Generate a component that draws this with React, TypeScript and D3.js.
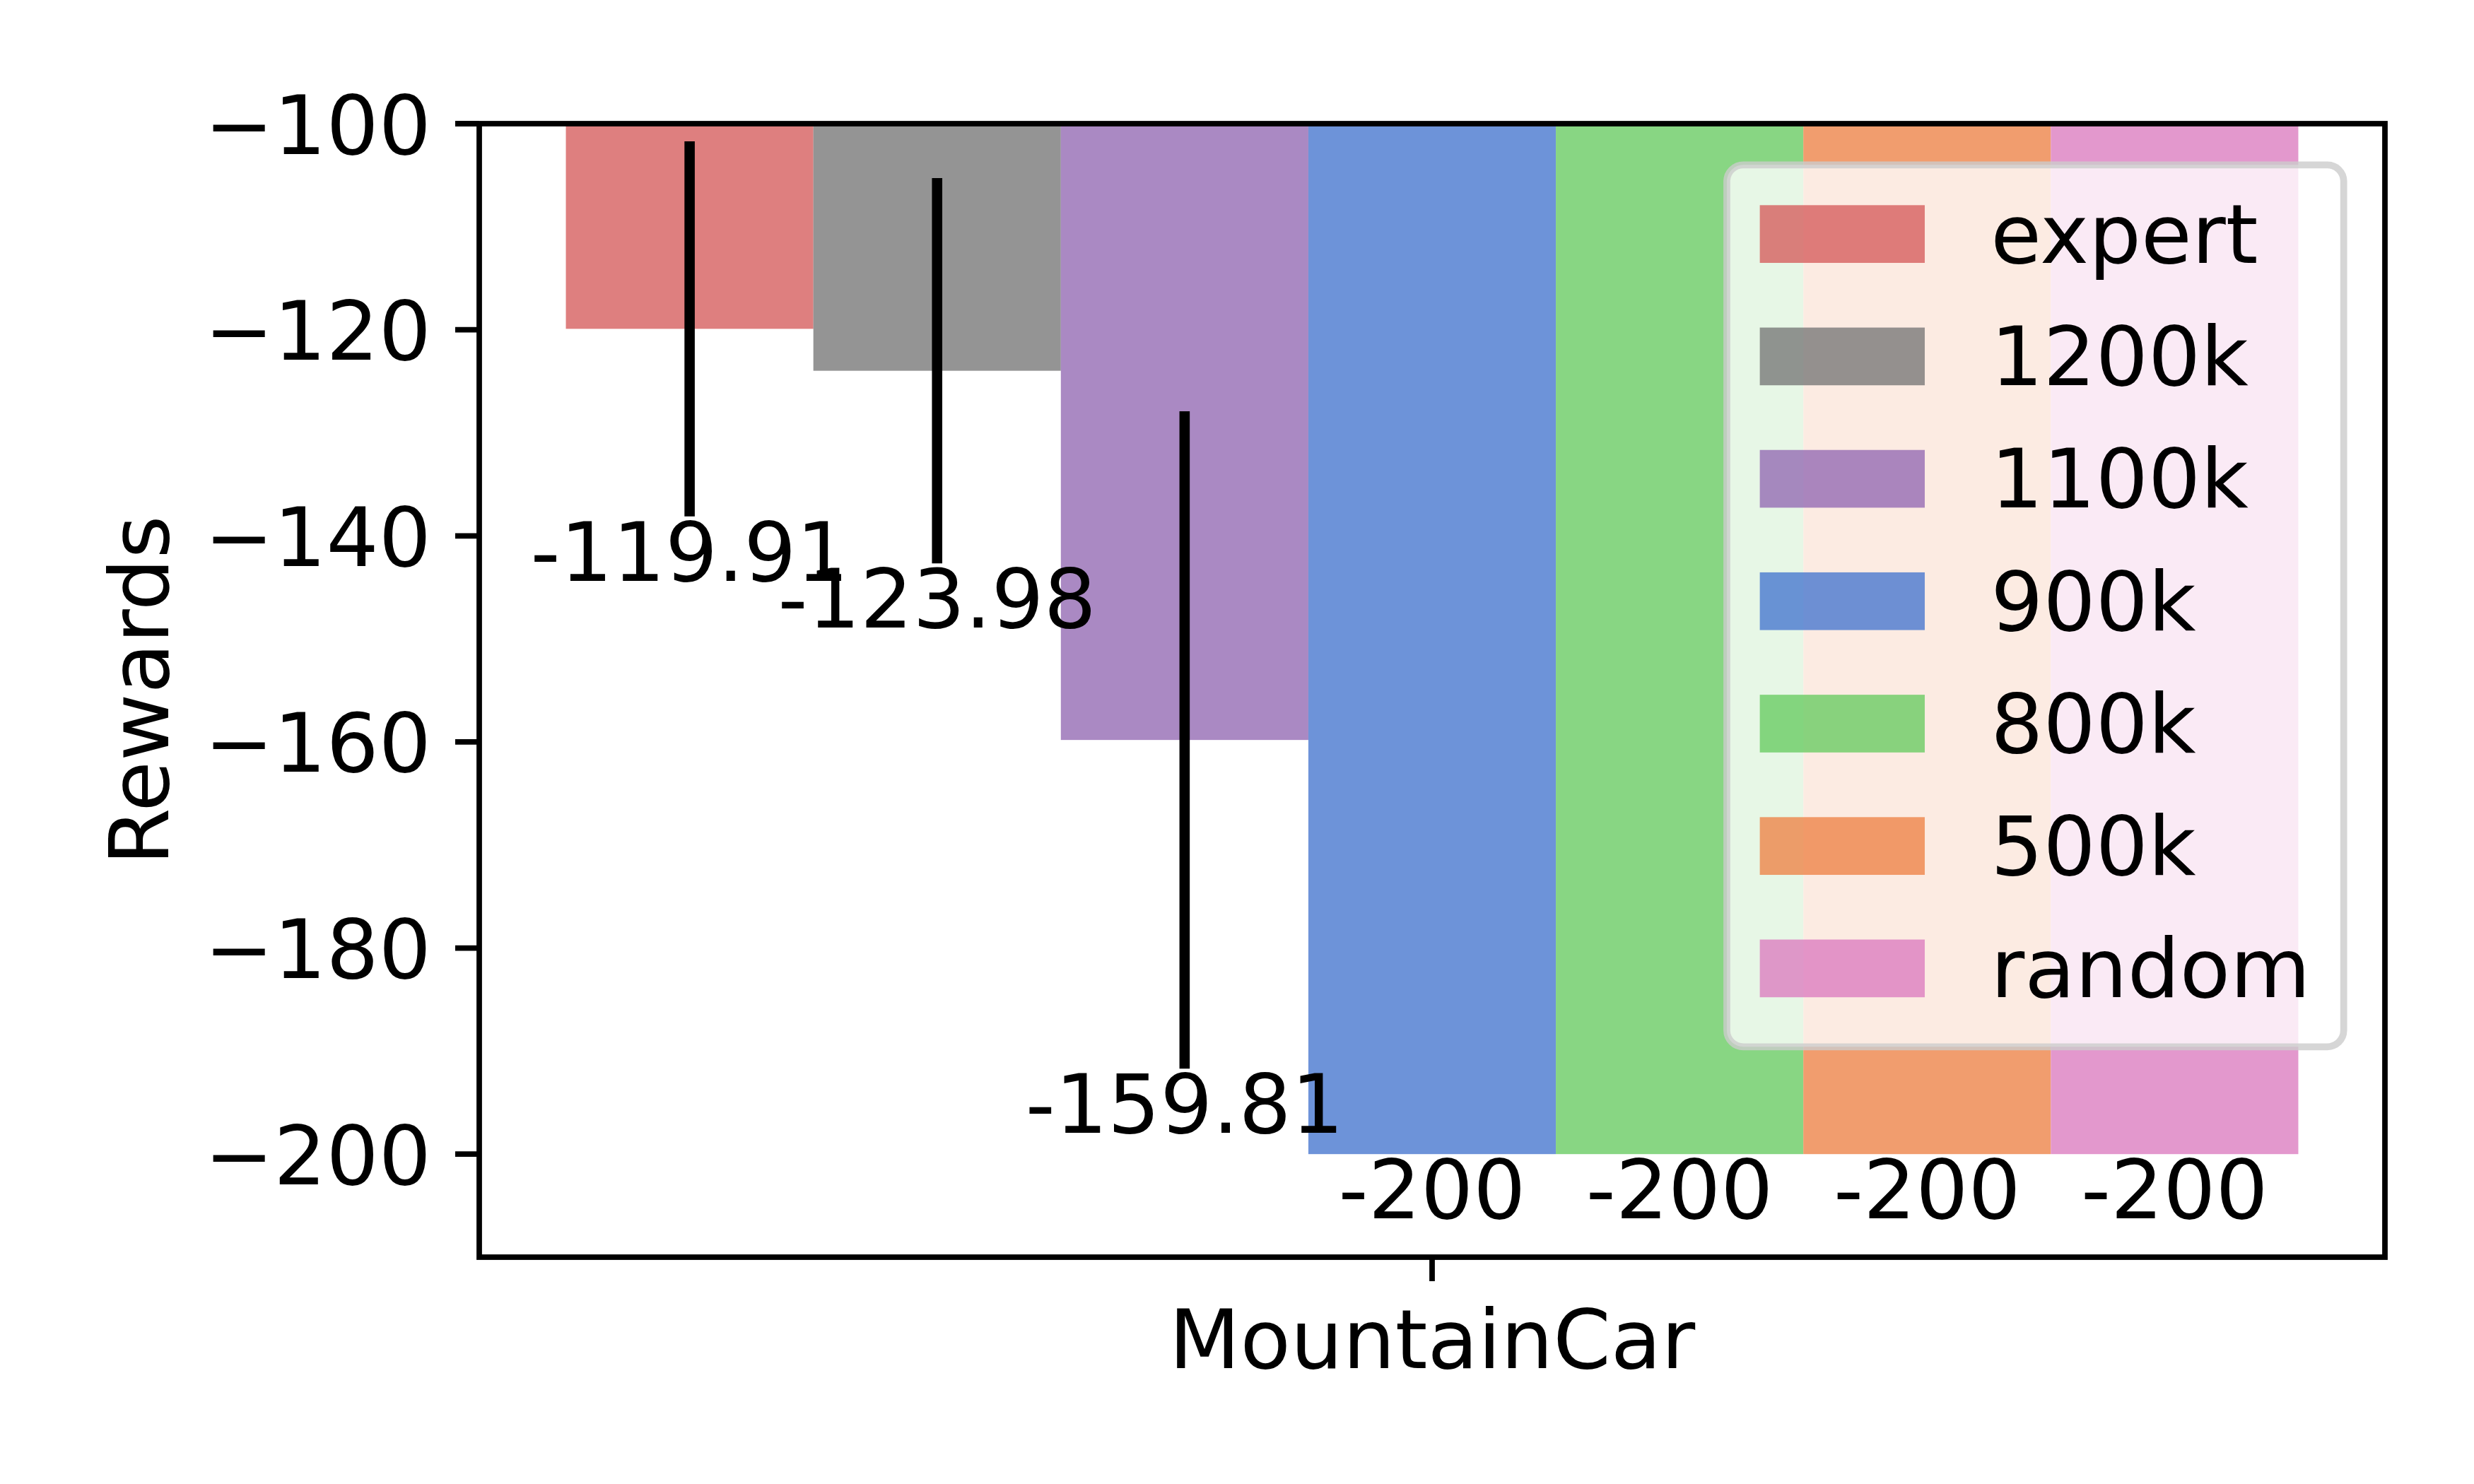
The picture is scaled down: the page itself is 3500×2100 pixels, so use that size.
import React from 'react';
import * as d3 from 'd3';

const categories = ['MountainCar'];
const seriesNames = ['expert', '1200k', '1100k', '900k', '800k', '500k', 'random'];
const means = [-119.91, -123.98, -159.81, -200, -200, -200, -200];
const stds = [18.2, 18.7, 31.9, 0, 0, 0, 0];
const labels = ['-119.91', '-123.98', '-159.81', '-200', '-200', '-200', '-200'];
const colors = ['#d65f5f', '#797979', '#956cb4', '#4878d0', '#6acc64', '#ee854a', '#dc7ec0'];
const yTicks = [-100, -120, -140, -160, -180, -200];
const yDomain = [-210, -100];
const yLabel = 'Rewards';

const W = 3500;
const H = 2100;
const FS = 116.67;
const PT = 700 / 72;
const FONT = '"DejaVu Sans", sans-serif';

export default function App() {
  const L = 678, R = 3374, T = 175, B = 1779;
  const bw = 0.1;
  const n = seriesNames.length;
  const span = n * bw;
  const x = d3.scaleLinear().domain([-span / 2 - span * 0.05, span / 2 + span * 0.05]).range([L, R]);
  const y = d3.scaleLinear().domain(yDomain).range([B, T]);
  const tickLen = 3.5 * PT;
  const pad = 3.5 * PT;
  const lw = 0.8 * PT;
  const fmt = (v: number) => (v < 0 ? '\u2212' + Math.abs(v) : String(v));

  // legend geometry
  const legR = R - 0.5 * FS;
  const legW = 872.7;
  const legL = legR - legW;
  const legT = T + 0.5 * FS;
  const legH = 1248;
  const rowSp = 173.2;
  const base0 = legT + 0.4 * FS + 92;
  const hL = legL + 0.4 * FS;
  const hW = 2.0 * FS;
  const hH = 0.7 * FS;
  const tX = hL + hW + 0.8 * FS;

  return (
    <svg width={W} height={H} style={{ position: 'absolute', left: 0, top: 0, background: '#fff' }} fontFamily={FONT}>
      <rect x={0} y={0} width={W} height={H} fill="#fff" />
      <defs>
        <clipPath id="plotclip">
          <rect x={L} y={T} width={R - L} height={B - T} />
        </clipPath>
      </defs>
      <g clipPath="url(#plotclip)">
        {means.map((m, i) => {
          const cx = (i - (n - 1) / 2) * bw;
          const x0 = x(cx - bw / 2);
          const x1 = x(cx + bw / 2);
          const y0 = y(0);
          const y1 = y(m);
          return (
            <rect key={i} x={x0} y={Math.min(y0, y1)} width={x1 - x0} height={Math.abs(y1 - y0)}
              fill={colors[i]} fillOpacity={0.8} />
          );
        })}
        {means.map((m, i) => {
          if (stds[i] <= 0) return null;
          const cx = x((i - (n - 1) / 2) * bw);
          return (
            <line key={'e' + i} x1={cx} x2={cx} y1={y(m + stds[i])} y2={y(m - stds[i])}
              stroke="#000" strokeWidth={1.5 * PT} />
          );
        })}
      </g>
      {means.map((m, i) => {
        const cx = x((i - (n - 1) / 2) * bw);
        return (
          <text key={'t' + i} x={cx} y={y(m - stds[i]) + 0.78 * FS} fontSize={FS} textAnchor="middle" fill="#000">
            {labels[i]}
          </text>
        );
      })}
      {/* spines */}
      <rect x={L} y={T} width={R - L} height={B - T} fill="none" stroke="#000" strokeWidth={lw} />
      {/* y ticks */}
      {yTicks.map((t) => (
        <g key={'yt' + t}>
          <line x1={L - tickLen} x2={L} y1={y(t)} y2={y(t)} stroke="#000" strokeWidth={lw} />
          <text x={L - tickLen - pad} y={y(t) + 0.3645 * FS} fontSize={FS} textAnchor="end" fill="#000">
            {fmt(t)}
          </text>
        </g>
      ))}
      {/* x ticks */}
      {categories.map((c, j) => (
        <g key={'xt' + j}>
          <line x1={x(j)} x2={x(j)} y1={B} y2={B + tickLen} stroke="#000" strokeWidth={lw} />
          <text x={x(j)} y={B + tickLen + pad + 0.76 * FS} fontSize={FS} textAnchor="middle" fill="#000">
            {c}
          </text>
        </g>
      ))}
      <text transform={`translate(238, ${(T + B) / 2}) rotate(-90)`} fontSize={FS} textAnchor="middle" fill="#000">
        {yLabel}
      </text>
      {/* legend */}
      <rect x={legL} y={legT} width={legW} height={legH} rx={0.2 * FS} ry={0.2 * FS}
        fill="#fff" fillOpacity={0.8} stroke="#cccccc" strokeOpacity={0.8} strokeWidth={1.0 * PT} />
      {seriesNames.map((s, i) => {
        const base = base0 + i * rowSp;
        return (
          <g key={'lg' + i}>
            <rect x={hL} y={base - hH} width={hW} height={hH} fill={colors[i]} fillOpacity={0.8} />
            <text x={tX} y={base} fontSize={FS} fill="#000">{s}</text>
          </g>
        );
      })}
    </svg>
  );
}
